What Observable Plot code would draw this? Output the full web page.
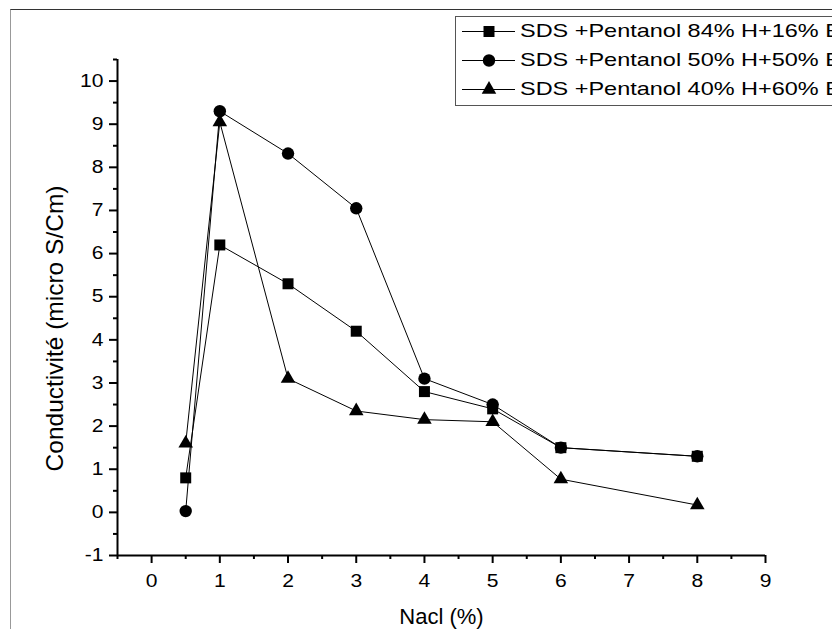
<!DOCTYPE html>
<html><head><meta charset="utf-8">
<script src="https://cdn.jsdelivr.net/npm/d3@7"></script>
<script src="https://cdn.jsdelivr.net/npm/@observablehq/plot@0.6"></script>
<style>
html,body{margin:0;padding:0;background:#fff;width:832px;height:629px;overflow:hidden;}
#wrap{position:relative;width:832px;height:629px;overflow:hidden;}
#frame{position:absolute;left:10px;top:9px;width:900px;height:700px;border-top:1px solid #333;border-left:1px solid #999;}
#chart{position:absolute;left:0;top:0;}
#legend{position:absolute;left:455px;top:16px;width:430px;height:88px;border:1px solid #555;background:#fff;font-family:"Liberation Sans",Arial,sans-serif;font-size:19px;color:#000;}
.row{position:relative;height:29px;}
.row svg{position:absolute;left:0;top:0;}
.row span{position:absolute;left:64px;top:3px;white-space:nowrap;transform:scaleX(1.235);transform-origin:left center;line-height:22px;}
</style>
</head><body>
<div id="wrap">
  <div id="frame"></div>
  <div id="chart"></div>
  <div id="legend"></div>
</div>
<script>
// ---- data ----
const nacl = [0.5, 1, 2, 3, 4, 5, 6, 8];
const s84 = [0.8, 6.2, 5.3, 4.2, 2.8, 2.4, 1.5, 1.3];
const s50 = [0.03, 9.3, 8.32, 7.05, 3.1, 2.5, 1.5, 1.3];
const s40 = [1.6, 9.05, 3.1, 2.35, 2.15, 2.1, 0.77, 0.17];
const seriesNames = [
  "SDS +Pentanol 84% H+16% E",
  "SDS +Pentanol 50% H+50% E",
  "SDS +Pentanol 40% H+60% E"
];
const seriesSymbols = ["square", "circle", "triangle"];
const seriesRadius = [6.2, 6.2, 5.4];
const xMajor = [0, 1, 2, 3, 4, 5, 6, 7, 8, 9];
const xMinor = [-0.5, 0.5, 1.5, 2.5, 3.5, 4.5, 5.5, 6.5, 7.5, 8.5];
const yMajor = [-1, 0, 1, 2, 3, 4, 5, 6, 7, 8, 9, 10];
const yMinor = [-0.5, 0.5, 1.5, 2.5, 3.5, 4.5, 5.5, 6.5, 7.5, 8.5, 9.5, 10.5];
const xTitle = "Nacl (%)";
const yTitle = "Conductivité (micro S/Cm)";

const seriesValues = [s84, s50, s40];
const rows = seriesValues.flatMap((vals, k) => nacl.map((x, i) => ({x, y: vals[i], name: seriesNames[k]})));

const chart = Plot.plot({
  width: 832, height: 629,
  marginLeft: 117, marginRight: 67, marginTop: 59, marginBottom: 74,
  style: {fontFamily: "'Liberation Sans', Arial, sans-serif", fontSize: "18px", color: "#000", background: "transparent", overflow: "visible"},
  x: {domain: [-0.5, 9]},
  y: {domain: [-1, 10.5]},
  marks: [
    Plot.axisX({ticks: xMajor, tickSize: 8, tickPadding: 11, strokeWidth: 2, tickFormat: d => String(d), label: null}),
    Plot.axisX({ticks: xMinor, tickSize: 4, strokeWidth: 2, tickFormat: () => "", label: null}),
    Plot.axisY({ticks: yMajor, tickSize: 8, tickPadding: 6, strokeWidth: 2, tickFormat: d => String(d), label: null}),
    Plot.axisY({ticks: yMinor, tickSize: 4, strokeWidth: 2, tickFormat: () => "", label: null}),
    Plot.ruleX([-0.5], {strokeWidth: 2, stroke: "#000"}),
    Plot.ruleY([-1], {strokeWidth: 2, stroke: "#000"}),
    Plot.line(rows, {x: "x", y: "y", z: "name", stroke: "#000", strokeWidth: 1}),
    ...seriesNames.map((n, k) => Plot.dot(rows.filter(d => d.name === n), {
      x: "x", y: "y", symbol: seriesSymbols[k], r: seriesRadius[k], fill: "#000", stroke: "none"
    })),
    Plot.text([xTitle], {text: d => d, frameAnchor: "bottom", lineAnchor: "bottom", dy: 68, fontSize: 22}),
    Plot.text([yTitle], {text: d => d, frameAnchor: "left", textAnchor: "middle", rotate: -90, dx: -62, dy: 21, fontSize: 24.5})
  ]
});
document.getElementById("chart").appendChild(chart);

// horizontally widen tick labels to match the reference's stretched glyphs
chart.querySelectorAll('g[aria-label$="tick label"] text').forEach(t => {
  const L = t.getComputedTextLength();
  if (L > 0) {
    t.setAttribute("textLength", (L * 1.17).toFixed(2));
    t.setAttribute("lengthAdjust", "spacingAndGlyphs");
  }
});

// legend
const legend = document.getElementById("legend");
seriesNames.forEach((n, k) => {
  const row = document.createElement("div");
  row.className = "row";
  const svg = d3.create("svg").attr("width", 62).attr("height", 29);
  svg.append("line").attr("x1", 6).attr("x2", 59).attr("y1", 14.5).attr("y2", 14.5).attr("stroke", "#000").attr("stroke-width", 1);
  const sym = {square: d3.symbolSquare, circle: d3.symbolCircle, triangle: d3.symbolTriangle}[seriesSymbols[k]];
  const r = seriesRadius[k];
  svg.append("path").attr("transform", "translate(33,14.5)").attr("d", d3.symbol(sym, r * r * Math.PI)()).attr("fill", "#000");
  row.appendChild(svg.node());
  const span = document.createElement("span");
  span.textContent = n;
  row.appendChild(span);
  legend.appendChild(row);
});
</script>
</body></html>
